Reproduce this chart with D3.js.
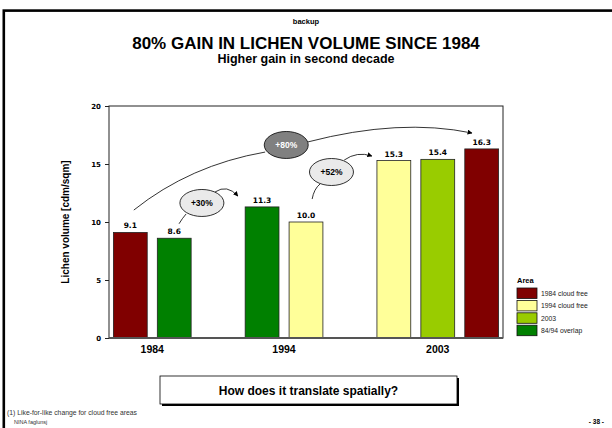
<!DOCTYPE html>
<html>
<head>
<meta charset="utf-8">
<script src="https://cdn.jsdelivr.net/npm/d3@7"></script>
<style>
  body { margin: 0; background: #fff; }
  svg { display: block; font-family: "Liberation Sans", Arial, sans-serif; }
</style>
</head>
<body>
<script>
// bars, left to right
const years = ["1984", "1994", "2003"];
const barYears = ["1984", "1984", "1994", "1994", "2003", "2003", "2003"];
const barAreas = ["1984 cloud free", "84/94 overlap", "84/94 overlap", "1994 cloud free",
                  "1994 cloud free", "2003", "1984 cloud free"];
const barValues = [9.1, 8.6, 11.3, 10.0, 15.3, 15.4, 16.3];

// legend
const areas = ["1984 cloud free", "1994 cloud free", "2003", "84/94 overlap"];
const yTicks = [0, 5, 10, 15, 20];

// change bubbles
const gainLabels = ["+30%", "+52%", "+80%"];

const W = 612, H = 428;
const plot = { left: 109, right: 503, top: 106, bottom: 338 };

const svg = d3.select("body").append("svg")
  .attr("width", W)
  .attr("height", H);

svg.append("defs").append("marker")
  .attr("id", "head")
  .attr("viewBox", "0 0 10 10")
  .attr("refX", 9).attr("refY", 5)
  .attr("markerWidth", 5).attr("markerHeight", 5)
  .attr("markerUnits", "userSpaceOnUse")
  .attr("orient", "auto")
  .append("path")
  .attr("d", "M0,0L10,5L0,10z")
  .attr("fill", "#000");

// slide frame
svg.append("rect")
  .attr("x", 3.8).attr("y", 10.6)
  .attr("width", W + 20).attr("height", H + 20)
  .attr("fill", "none")
  .attr("stroke", "#000")
  .attr("stroke-width", 2.6);

// header
svg.append("text")
  .attr("x", 306).attr("y", 24)
  .attr("text-anchor", "middle")
  .attr("font-size", 7.5).attr("font-weight", "bold")
  .text("backup");

svg.append("text")
  .attr("x", 306).attr("y", 49)
  .attr("text-anchor", "middle")
  .attr("font-size", 17).attr("font-weight", "bold")
  .text("80% GAIN IN LICHEN VOLUME SINCE 1984");

svg.append("text")
  .attr("x", 306).attr("y", 63)
  .attr("text-anchor", "middle")
  .attr("font-size", 12.5).attr("font-weight", "bold")
  .text("Higher gain in second decade");

// slots: bars grouped by year with one empty slot between groups
const slots = [];
years.forEach((yr, i) => {
  if (i > 0) slots.push("gap" + i);
  barYears.forEach((y, j) => { if (y === yr) slots.push("b" + j); });
});

const x = d3.scaleBand()
  .domain(slots)
  .range([plot.left, plot.right])
  .paddingInner(0.23)
  .paddingOuter(0.1);

const y = d3.scaleLinear()
  .domain([0, 20])
  .range([plot.bottom, plot.top]);

const color = d3.scaleOrdinal()
  .domain(areas)
  .range(["#800000", "#FFFF99", "#99CC00", "#008000"]);

// continuous slot position (0 = centre of first bar)
const sx = k => x(slots[0]) + x.bandwidth() / 2 + k * x.step();
const pt = p => [sx(p[0]), y(p[1])];

// plot box
svg.append("rect")
  .attr("x", plot.left).attr("y", plot.top)
  .attr("width", plot.right - plot.left)
  .attr("height", plot.bottom - plot.top)
  .attr("fill", "none")
  .attr("stroke", "#222")
  .attr("stroke-width", 1);

// y axis
const yAxis = svg.append("g")
  .attr("transform", "translate(" + plot.left + ",0)")
  .call(d3.axisLeft(y).tickValues(yTicks).tickSize(4).tickPadding(4));
yAxis.select(".domain").remove();
yAxis.selectAll("text")
  .attr("font-family", "'DejaVu Sans', Verdana, sans-serif")
  .attr("font-size", 7)
  .attr("font-weight", "bold")
  .attr("fill", "#000");
yAxis.selectAll("line").attr("stroke", "#222");

svg.append("text")
  .attr("transform", "translate(69," + (plot.top + plot.bottom) / 2 + ") rotate(-90)")
  .attr("text-anchor", "middle")
  .attr("font-size", 10).attr("font-weight", "bold")
  .text("Lichen volume [cdm/sqm]");

// bars
const barIdx = d3.range(barValues.length);
svg.selectAll("rect.bar")
  .data(barIdx)
  .enter()
  .append("rect")
  .attr("class", "bar")
  .attr("x", i => x("b" + i))
  .attr("y", i => y(barValues[i]))
  .attr("width", x.bandwidth())
  .attr("height", i => y(0) - y(barValues[i]))
  .attr("fill", i => color(barAreas[i]))
  .attr("stroke", "#222")
  .attr("stroke-width", 0.8);

svg.selectAll("text.val")
  .data(barIdx)
  .enter()
  .append("text")
  .attr("class", "val")
  .attr("x", i => x("b" + i) + x.bandwidth() / 2)
  .attr("y", i => y(barValues[i]) - 4)
  .attr("text-anchor", "middle")
  .attr("font-family", "'DejaVu Sans', Verdana, sans-serif")
  .attr("font-size", 7.5)
  .attr("font-weight", "bold")
  .text(i => d3.format(".1f")(barValues[i]));

// x axis line
svg.append("line")
  .attr("x1", plot.left).attr("x2", plot.right)
  .attr("y1", y(0)).attr("y2", y(0))
  .attr("stroke", "#555")
  .attr("stroke-width", 2);

// year labels under each group
svg.selectAll("text.year")
  .data(years)
  .enter()
  .append("text")
  .attr("class", "year")
  .attr("x", yr => d3.mean(barIdx.filter(i => barYears[i] === yr), i => x("b" + i) + x.bandwidth() / 2))
  .attr("y", plot.bottom + 15)
  .attr("text-anchor", "middle")
  .attr("font-size", 10.5)
  .attr("font-weight", "bold")
  .text(yr => yr);

// gain bubbles, positioned in slot/value units
const bubbles = [
  { label: gainLabels[0], c: [1.63, 11.64], fill: "#EAEAEA", text: "#000",
    stem: [[1.11, 9.85], [1.18, 10.3], [1.27, 10.69]],
    arc: [[1.93, 12.59], [2.20, 13.28], [2.45, 12.24]] },
  { label: gainLabels[1], c: [4.58, 14.31], fill: "#EAEAEA", text: "#000",
    stem: [[4.14, 11.98], [4.18, 12.84], [4.32, 13.28]],
    arc: [[4.87, 15.34], [5.16, 16.12], [5.50, 15.69]] },
  { label: gainLabels[2], c: [3.55, 16.64], fill: "#808080", text: "#fff",
    stem: [[0.08, 11.03], [1.36, 14.9], [3.07, 16.03]],
    arc: [[4.04, 16.9], [6.14, 18.97], [7.78, 17.67]] }
];

const q = pts => {
  const [a, b, c] = pts.map(pt);
  return "M" + a + "Q" + b + " " + c;
};

bubbles.forEach(b => {
  svg.append("path")
    .attr("d", q(b.stem))
    .attr("fill", "none")
    .attr("stroke", "#000")
    .attr("stroke-width", 0.8);
  svg.append("path")
    .attr("d", q(b.arc))
    .attr("fill", "none")
    .attr("stroke", "#000")
    .attr("stroke-width", 0.8)
    .attr("marker-end", "url(#head)");
  const [cx, cy] = pt(b.c);
  svg.append("ellipse")
    .attr("cx", cx).attr("cy", cy)
    .attr("rx", 22).attr("ry", 13.5)
    .attr("fill", b.fill)
    .attr("stroke", "#000")
    .attr("stroke-width", 0.8);
  svg.append("text")
    .attr("x", cx).attr("y", cy + 3)
    .attr("text-anchor", "middle")
    .attr("font-size", 8.5).attr("font-weight", "bold")
    .attr("fill", b.text)
    .text(b.label);
});

// legend
const lg = svg.append("g").attr("transform", "translate(517,283)");
lg.append("text")
  .attr("font-size", 7.5).attr("font-weight", "bold")
  .text("Area");
const rows = lg.selectAll("g.row")
  .data(areas)
  .enter()
  .append("g")
  .attr("class", "row")
  .attr("transform", (d, i) => "translate(0," + (5 + i * 12.4) + ")");
rows.append("rect")
  .attr("width", 20).attr("height", 10.5)
  .attr("fill", d => color(d))
  .attr("stroke", "#111")
  .attr("stroke-width", 0.8);
rows.append("text")
  .attr("x", 24).attr("y", 7.8)
  .attr("font-size", 6.8)
  .attr("fill", "#222")
  .text(d => d);

// question box with shadow
svg.append("rect")
  .attr("x", 162).attr("y", 378)
  .attr("width", 297).attr("height", 28)
  .attr("fill", "#000");
svg.append("rect")
  .attr("x", 160).attr("y", 376)
  .attr("width", 297).attr("height", 28)
  .attr("fill", "#fff")
  .attr("stroke", "#000")
  .attr("stroke-width", 0.8);
svg.append("text")
  .attr("x", 308.5).attr("y", 394.5)
  .attr("text-anchor", "middle")
  .attr("font-size", 12).attr("font-weight", "bold")
  .text("How does it translate spatially?");

// footer
svg.append("text")
  .attr("x", 7).attr("y", 415)
  .attr("font-size", 6.8).attr("fill", "#333")
  .text("(1) Like-for-like change for cloud free areas");
svg.append("text")
  .attr("x", 14).attr("y", 424)
  .attr("font-size", 5.5).attr("fill", "#333")
  .text("NINA faglunsj");
svg.append("text")
  .attr("x", 604).attr("y", 424)
  .attr("text-anchor", "end")
  .attr("font-size", 6.5).attr("font-weight", "bold")
  .text("- 38 -");
</script>
</body>
</html>
